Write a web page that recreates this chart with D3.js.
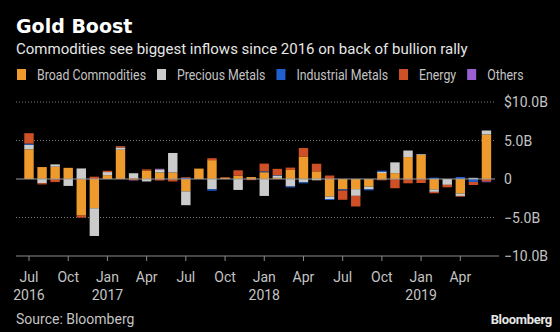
<!DOCTYPE html>
<html>
<head>
<meta charset="utf-8">
<script src="https://cdn.jsdelivr.net/npm/d3@7"></script>
<style>
  html, body { margin: 0; padding: 0; background: #000; }
  svg { display: block; }
  text { font-family: Roboto, "Noto Sans", sans-serif; }
</style>
</head>
<body>
<svg id="chart" width="560" height="332"></svg>
<script>
// monthly flows, $B
var months = ["2016-07","2016-08","2016-09","2016-10","2016-11","2016-12",
              "2017-01","2017-02","2017-03","2017-04","2017-05","2017-06",
              "2017-07","2017-08","2017-09","2017-10","2017-11","2017-12",
              "2018-01","2018-02","2018-03","2018-04","2018-05","2018-06",
              "2018-07","2018-08","2018-09","2018-10","2018-11","2018-12",
              "2019-01","2019-02","2019-03","2019-04","2019-05","2019-06"];
var broad      = [3.85, 1.55, 1.6, 1.45, -4.75, -3.8, 0.5, 3.8, 0.1, 1.1, 0.85, 0.85,
                  -1.6, 1.35, 2.45, 0.15, 0.43, 0.25, 0.88, 0.15, 1.18, 2.93, 1.0, -2.28,
                  -1.35, -1.32, -1.0, 0.78, 0.76, 2.85, 3.12, -1.35, 0, -1.9, 0, 5.78];
var precious   = [0.6, -0.55, 0.3, -0.9, 1.37, -3.6, 0.4, 0.3, 0.65, -0.32, 0.4, 2.53,
                  -1.8, 0, -1.32, 0, -1.42, 0, -2.2, 0.3, -0.97, -0.43, -0.17, -0.32,
                  0, -0.87, -0.35, 0.15, 1.4, 0.85, 0.1, -0.32, -0.76, -0.3, 0.15, 0.52];
var industrial = [0.15, 0, 0, 0, 0, 0, 0, 0, 0, 0, 0, 0,
                  0.15, 0, -0.2, 0, 0, 0, 0.12, 0.05, -0.13, -0.13, 0, -0.13,
                  -0.15, 0, -0.12, 0.15, 0, 0, 0, 0.17, 0, 0.26, -0.38, 0];
var energy     = [1.35, -0.15, -0.4, 0, -0.26, 0.3, 0.17, 0.17, -0.15, 0.15, -0.2, -0.32,
                  0.1, 0, 0.25, 0.1, 0.7, -0.15, 1.0, 0.82, 0.3, 1.09, 0.98, 0.45,
                  -1.2, -1.38, 0, -0.17, -1.2, -0.56, -0.52, -0.18, -0.32, -0.1, -0.4, -0.32];
var others     = [0, 0, 0, 0, 0, 0, 0, 0, -0.05, 0, 0.08, 0,
                  0, 0, 0, 0, 0, 0, 0, 0, 0, 0, 0, 0,
                  0, 0, 0, 0, 0, 0, 0, 0, 0, 0, 0, -0.1];
var seriesNames = ["Broad Commodities", "Precious Metals", "Industrial Metals", "Energy", "Others"];
var seriesColors = ["#ee9a2c", "#cbcbcb", "#1f5fd0", "#cf5026", "#9b5fd1"];
var yTicks = [10, 5, 0, -5, -10];

var svg = d3.select("#chart");
var parseMonth = d3.timeParse("%Y-%m");

var rows = months.map(function(m, i) {
  var r = {month: m};
  r[seriesNames[0]] = broad[i];
  r[seriesNames[1]] = precious[i];
  r[seriesNames[2]] = industrial[i];
  r[seriesNames[3]] = energy[i];
  r[seriesNames[4]] = others[i];
  return r;
});

var stack = d3.stack().keys(seriesNames).offset(d3.stackOffsetDiverging);
var layers = stack(rows);

var n = months.length;
var step = 13.07;
var x = d3.scaleBand()
  .domain(months)
  .range([29 - step / 2, 29 + step * (n - 0.5)])
  .paddingInner(0.28)
  .paddingOuter(0.14);

var y = d3.scaleLinear().domain([-10, 10]).range([256, 102]);

var color = d3.scaleOrdinal().domain(seriesNames).range(seriesColors);

// title block
svg.append("text")
  .attr("x", 16).attr("y", 33)
  .attr("fill", "#fff")
  .style("font-family", "'DejaVu Sans', sans-serif")
  .style("font-weight", "bold")
  .style("font-size", "19px")
  .text("Gold Boost");

svg.append("text")
  .attr("x", 16).attr("y", 54)
  .attr("fill", "#e6e6e6")
  .style("font-size", "15px")
  .text("Commodities see biggest inflows since 2016 on back of bullion rally");

// legend (bloomberg font is a bit narrower, squeeze the labels)
var lx = 17;
seriesNames.forEach(function(name, i) {
  var g = svg.append("g");
  g.append("rect")
    .attr("x", lx).attr("y", 69)
    .attr("width", 9).attr("height", 11)
    .attr("fill", seriesColors[i]);
  var t = g.append("text")
    .attr("x", lx + 20).attr("y", 80)
    .attr("fill", "#c4c4c4")
    .style("font-size", "14px")
    .text(name);
  var w = t.node().getComputedTextLength() * 0.88;
  t.attr("textLength", w).attr("lengthAdjust", "spacingAndGlyphs");
  lx = lx + 20 + w + 11;
});

// grid
svg.append("g").selectAll("line")
  .data(yTicks.filter(function(d) { return d !== 0 && d !== -10; }))
  .join("line")
  .attr("x1", 16).attr("x2", 495)
  .attr("y1", function(d) { return y(d); })
  .attr("y2", function(d) { return y(d); })
  .attr("stroke", "#7a7a7a")
  .attr("stroke-width", 1)
  .attr("stroke-dasharray", "1,2");

// bars
svg.append("g").selectAll("g")
  .data(layers)
  .join("g")
  .attr("fill", function(d) { return color(d.key); })
  .selectAll("rect")
  .data(function(d) { return d; })
  .join("rect")
  .attr("x", function(d) { return x(d.data.month); })
  .attr("width", x.bandwidth())
  .attr("y", function(d) { return y(Math.max(d[0], d[1])); })
  .attr("height", function(d) { return Math.abs(y(d[0]) - y(d[1])); });

// zero line
svg.append("line")
  .attr("x1", 16).attr("x2", 495)
  .attr("y1", y(0)).attr("y2", y(0))
  .attr("stroke", "#9a9a9a")
  .attr("stroke-width", 1);

// y labels on the right
svg.append("g").selectAll("text")
  .data(yTicks)
  .join("text")
  .attr("x", 504)
  .attr("y", function(d) { return y(d) + 5; })
  .attr("fill", "#c4c4c4")
  .style("font-size", "14px")
  .text(function(d) {
    if (d === 0) return "0";
    return (d === 10 ? "$" : "") + d3.format(".1f")(d) + "B";
  });

// x axis
var tickMonths = months.filter(function(m, i) { return i % 3 === 0; });
var xAxis = d3.axisBottom(x)
  .tickValues(tickMonths)
  .tickSize(5)
  .tickFormat(function(m) { return d3.timeFormat("%b")(parseMonth(m)); });

var axisG = svg.append("g")
  .attr("transform", "translate(0," + y(-10) + ")")
  .call(xAxis);
axisG.select(".domain").remove();
axisG.selectAll(".tick line").attr("stroke", "#8a8a8a");
axisG.selectAll(".tick text")
  .attr("y", 16)
  .attr("fill", "#c4c4c4")
  .style("font-size", "14px")
  .style("font-family", "Roboto, sans-serif");
axisG.append("line")
  .attr("x1", 16).attr("x2", 499)
  .attr("stroke", "#8a8a8a");

// year labels under first tick and each January
var yearMonths = tickMonths.filter(function(m, i) { return i === 0 || m.slice(5) === "01"; });
svg.append("g").selectAll("text")
  .data(yearMonths)
  .join("text")
  .attr("x", function(m) { return x(m) + x.bandwidth() / 2; })
  .attr("y", 300)
  .attr("text-anchor", "middle")
  .attr("fill", "#c4c4c4")
  .style("font-size", "14px")
  .text(function(m) { return m.slice(0, 4); });

// footer
svg.append("text")
  .attr("x", 16).attr("y", 324)
  .attr("fill", "#c4c4c4")
  .style("font-size", "14px")
  .text("Source: Bloomberg");

svg.append("text")
  .attr("x", 552).attr("y", 324)
  .attr("text-anchor", "end")
  .attr("fill", "#e6e6e6")
  .style("font-weight", "bold")
  .style("font-size", "13px")
  .style("letter-spacing", "-0.3px")
  .text("Bloomberg");
</script>
</body>
</html>
